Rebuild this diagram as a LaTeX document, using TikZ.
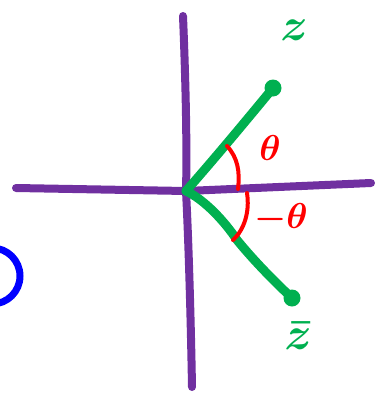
\documentclass[tikz,border=0pt]{standalone}
\usepackage{amsmath,amssymb}
\usepackage{graphicx}
\usepackage{tikz}
\usetikzlibrary{positioning}
\definecolor{inkpurple}{RGB}{112,48,160}
\definecolor{inkgreen}{RGB}{0,176,80}
\definecolor{inkred}{RGB}{255,0,0}
\definecolor{inkblue}{RGB}{0,0,255}
\tikzset{
  axis/.style={inkpurple,line width=8pt,line cap=round,line join=round},
  vec/.style={inkgreen,line width=9pt,line cap=round,line join=round},
  tipdot/.style={circle,fill=inkgreen,inner sep=0pt,minimum size=17pt},
  angarc/.style={inkred,line width=4pt,line cap=round},
  zlab/.style={inkgreen,inner sep=0pt},
  alab/.style={inkred,inner sep=0pt},
}
\newcommand{\bigz}[1]{\scalebox{4.6}{\boldmath$#1$}}
\newcommand{\bigth}[1]{\scalebox{3.6}{\boldmath$#1$}}
\begin{document}
\begin{tikzpicture}[x=1pt,y=-1pt]
      \useasboundingbox (0,0) rectangle (381,394);
      \clip (0,0) rectangle (381,394);
      % axes
      \coordinate (O) at (186,191);
      \draw[axis] (183,16) .. controls (186,90) and (187,150) .. (O)
                  .. controls (189,250) and (191,330) .. (192,387);
      \draw[axis] (16,188) -- (O) -- (371,183);
      % z and its conjugate
      \node[tipdot] (ztip) at (273,88) {};
      \node[tipdot] (zbtip) at (292,298) {};
      \draw[vec] (O) .. controls (215,158) and (245,122) .. (ztip.center);
      \draw[vec] (O) .. controls (205,200) and (225,222) .. (237,240)
                 .. controls (255,262) and (275,282) .. (zbtip.center);
      \node[zlab] (z) at (294,30) {\bigz{z}};
      \node[zlab] (zb) at (298,336) {\bigz{\bar{z}}};
      % angles
      \draw[angarc] (227,146) .. controls (238,158) and (240,172) .. (238,189);
      \draw[angarc] (247,193) .. controls (250,212) and (244,230) .. (233,240);
      \node[alab] (th) at (270,148) {\bigth{\theta}};
      \node[alab] (mth) at (281,218) {\bigth{-\theta}};
      % blue stroke at the left edge
      \draw[inkblue,line width=7pt] (-8,276) circle[radius=28];
\end{tikzpicture}
\end{document}
